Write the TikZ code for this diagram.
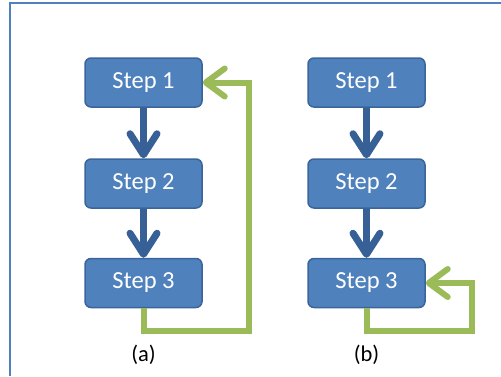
\documentclass[tikz,border=0pt]{standalone}
\usepackage{fontspec}
\setmainfont{Carlito}
\usetikzlibrary{arrows.meta}
\definecolor{boxfill}{HTML}{4F81BD}
\definecolor{boxline}{HTML}{3A659A}
\definecolor{flowblue}{HTML}{376096}
\definecolor{loopgreen}{HTML}{9BBB59}
\definecolor{framecol}{HTML}{4F81BD}
\tikzset{
  stepbox/.style={draw=boxline, fill=boxfill, line width=1.5pt, rounded corners=6pt,
    minimum width=117pt, minimum height=49pt, text=white,
    font=\fontsize{24.5}{29}\selectfont},
  flowarrow/.style={draw=flowblue, line width=7pt,
    -{Straight Barb[length=21pt, width=27pt, round]}},
  loopline/.style={draw=loopgreen, line width=6pt,
    -{Straight Barb[length=19pt, width=28pt, round]}},
  sublabel/.style={font=\fontsize{22.5}{27}\selectfont}
}
\begin{document}
\begin{tikzpicture}[x=1pt, y=-1pt]
\useasboundingbox (0,0) rectangle (501,376);
\draw[framecol, line width=2pt] (501,3) -- (9.5,3) -- (9.5,376);

% (a)
\node[stepbox] (s1a) at (143.5,82.5) {Step 1};
\node[stepbox] (s2a) at (143.5,183.5) {Step 2};
\node[stepbox] (s3a) at (143.5,283) {Step 3};
\draw[flowarrow] (s1a) -- (s2a);
\draw[flowarrow] (s2a) -- (s3a);
\coordinate (ra) at (248.5,331);
\draw[loopline] (s3a.south) |- (ra) |- (s1a.east);
\node[sublabel] (la) at (143.5,355) {(a)};

% (b)
\node[stepbox] (s1b) at (366.5,82.5) {Step 1};
\node[stepbox] (s2b) at (366.5,183.5) {Step 2};
\node[stepbox] (s3b) at (366.5,283) {Step 3};
\draw[flowarrow] (s1b) -- (s2b);
\draw[flowarrow] (s2b) -- (s3b);
\coordinate (rb) at (472,331);
\draw[loopline] (s3b.south) |- (rb) |- (s3b.east);
\node[sublabel] (lb) at (366.5,355) {(b)};
\end{tikzpicture}
\end{document}
